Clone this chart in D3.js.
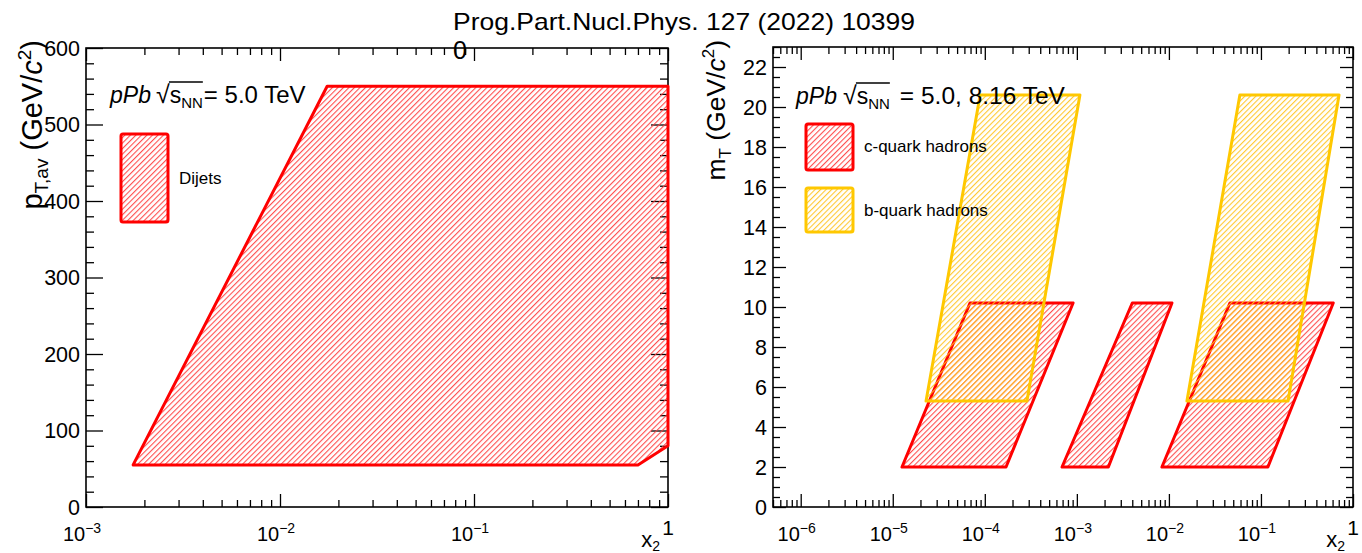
<!DOCTYPE html>
<html>
<head>
<meta charset="utf-8">
<script src="https://cdn.jsdelivr.net/npm/d3@7"></script>
<style>
  body { margin: 0; background: #fff; }
  text { font-family: "Liberation Sans", Arial, sans-serif; fill: #000; }
</style>
</head>
<body>
<svg id="chart" width="1362" height="553"></svg>
<script>
// ---- data ----
// dijet coverage in (x2, pT,avg), polygon vertices in order
const dijetX  = [0.00175, 0.0175, 1, 1, 0.70];
const dijetPt = [55, 550, 550, 80, 55];

// heavy-flavour coverage: x2 range at the low and high mT edge of each band
const charmMT      = [2, 10.2];
const charmLowX    = [[1.26e-5, 1.7e-4], [6.9e-4, 2.2e-3], [8.4e-3, 0.119]];
const charmHighX   = [[6.9e-5, 9.1e-4], [4.0e-3, 1.08e-2], [0.046, 0.61]];
const beautyMT     = [5.3, 20.6];
const beautyLowX   = [[2.3e-5, 2.87e-4], [0.0157, 0.197]];
const beautyHighX  = [[8.9e-5, 1.08e-3], [0.059, 0.705]];

const ptTicks = [0, 100, 200, 300, 400, 500, 600];
const mtTicks = [0, 2, 4, 6, 8, 10, 12, 14, 16, 18, 20, 22];
const leftDecades  = [-3, -2, -1, 0];
const rightDecades = [-6, -5, -4, -3, -2, -1, 0];

const RED = "#ff0000", GOLD = "#ffc800";

const svg = d3.select("#chart");
const defs = svg.append("defs");

function hatch(id, color) {
  const p = defs.append("pattern")
    .attr("id", id)
    .attr("patternUnits", "userSpaceOnUse")
    .attr("width", 3.9).attr("height", 3.9)
    .attr("patternTransform", "rotate(45)");
  p.append("line")
    .attr("x1", 0.6).attr("y1", 0).attr("x2", 0.6).attr("y2", 3.9)
    .attr("stroke", color).attr("stroke-width", 1);
}
hatch("hatchRed", "#ff3b3b");
hatch("hatchGold", "#ffc21a");

// ---- title ----
svg.append("text")
  .attr("x", 684).attr("y", 30)
  .attr("text-anchor", "middle")
  .attr("font-size", 24)
  .attr("textLength", 462).attr("lengthAdjust", "spacingAndGlyphs")
  .text("Prog.Part.Nucl.Phys. 127 (2022) 10399");
svg.append("text")
  .attr("x", 460).attr("y", 59)
  .attr("text-anchor", "middle")
  .attr("font-size", 25)
  .text("0");

// sequential text pieces laid out left to right
function richText(g, x, y, size, pieces) {
  let cx = x;
  const out = [];
  pieces.forEach(p => {
    const fs = p.size || size;
    const t = g.append("text")
      .attr("x", cx).attr("y", y + (p.dy || 0))
      .attr("font-size", fs)
      .attr("font-style", p.italic ? "italic" : null)
      .text(p.t);
    const w = t.node().getComputedTextLength();
    out.push(t.node());
    cx += w + (p.gap || 0);
  });
  return out;
}

function drawPanel(cfg) {
  const g = svg.append("g");
  const {x, y, left, right, top, bottom} = cfg;

  // x axis ticks (log), bottom and top, pointing inward
  const lo = x.domain()[0], hi = x.domain()[1];
  const majors = [], minors = [];
  for (let d = Math.floor(Math.log10(lo)); d <= Math.ceil(Math.log10(hi)); d++) {
    for (let k = 1; k <= 9; k++) {
      const v = k * Math.pow(10, d);
      if (v < lo * 0.999 || v > hi * 1.001) continue;
      (k === 1 ? majors : minors).push(v);
    }
  }
  [[d3.axisBottom, bottom], [d3.axisTop, top]].forEach(([ax, pos]) => {
    g.append("g").attr("transform", `translate(0,${pos})`)
      .call(ax(x).tickValues(majors).tickSize(-cfg.xMajor).tickFormat(""))
      .call(s => s.select(".domain").remove());
    g.append("g").attr("transform", `translate(0,${pos})`)
      .call(ax(x).tickValues(minors).tickSize(-cfg.xMinor).tickFormat(""))
      .call(s => s.select(".domain").remove());
  });

  // y axis ticks (linear), left and right, pointing inward
  const yMin = [];
  for (let v = y.domain()[0]; v <= y.domain()[1] + 1e-9; v += cfg.yMinorStep) yMin.push(+v.toFixed(4));
  [[d3.axisLeft, left], [d3.axisRight, right]].forEach(([ax, pos]) => {
    g.append("g").attr("transform", `translate(${pos},0)`)
      .call(ax(y).tickValues(cfg.yTicks).tickSize(-cfg.yMajor).tickFormat(""))
      .call(s => s.select(".domain").remove());
    g.append("g").attr("transform", `translate(${pos},0)`)
      .call(ax(y).tickValues(yMin.filter(v => !cfg.yTicks.includes(v))).tickSize(-cfg.yMinor).tickFormat(""))
      .call(s => s.select(".domain").remove());
  });
  g.selectAll(".tick line").attr("stroke", "#000").attr("stroke-width", 1.3);

  // frame
  g.append("rect")
    .attr("x", left).attr("y", top)
    .attr("width", right - left).attr("height", bottom - top)
    .attr("fill", "none").attr("stroke", "#000").attr("stroke-width", 1.6);

  // y tick labels
  cfg.yTicks.forEach(v => {
    g.append("text")
      .attr("x", left - 6).attr("y", y(v) + 7.5)
      .attr("text-anchor", "end")
      .attr("font-size", 21.5)
      .text(v);
  });

  // x tick labels: 10^n, and "1" for the last decade
  cfg.decades.forEach(d => {
    const px = x(Math.pow(10, d));
    if (d === 0) {
      g.append("text").attr("x", px).attr("y", 535)
        .attr("text-anchor", "middle").attr("font-size", 21).text("1");
      return;
    }
    const t = g.append("text").attr("x", px - 4).attr("y", 541)
      .attr("text-anchor", "middle").attr("font-size", 20);
    t.append("tspan").text("10");
    t.append("tspan").attr("dy", -8).attr("font-size", 14).text("\u2212" + Math.abs(d));
  });

  // x axis title
  const xt = g.append("text").attr("x", right - 8).attr("y", 547)
    .attr("text-anchor", "end").attr("font-size", 22);
  xt.append("tspan").text("x");
  xt.append("tspan").attr("dy", 4).attr("font-size", 14).text("2");

  return g;
}

// radical sign bar over s_NN
function radicalBar(g, nodes, yBar) {
  const a = nodes[1].getBBox(), b = nodes[3].getBBox();
  g.append("line").attr("x1", a.x + a.width - 1).attr("x2", b.x + b.width)
    .attr("y1", yBar).attr("y2", yBar).attr("stroke", "#000").attr("stroke-width", 1.3);
}

// rotated axis title: main letter, subscript, then unit with italic c squared
function yTitle(g, tx, ty, fs, main, sub) {
  const ss = Math.round(fs * 0.64);
  const t = g.append("text")
    .attr("transform", `translate(${tx},${ty}) rotate(-90)`)
    .attr("text-anchor", "end").attr("font-size", fs);
  t.append("tspan").text(main);
  t.append("tspan").attr("dy", 6).attr("font-size", ss).text(sub);
  t.append("tspan").attr("dy", -6).text(" (GeV/");
  t.append("tspan").attr("font-style", "italic").text("c");
  t.append("tspan").attr("dy", -11).attr("font-size", ss).text("2");
  t.append("tspan").attr("dy", 11).text(")");
}

// ---------------- left panel: dijets ----------------
const xL = d3.scaleLog().domain([1e-3, 1]).range([86, 668]);
const yL = d3.scaleLinear().domain([0, 600]).range([507, 48]);

const gL = drawPanel({
  x: xL, y: yL, left: 86, right: 668, top: 48, bottom: 507,
  xMajor: 13, xMinor: 7, yMajor: 17, yMinor: 8,
  yTicks: ptTicks, yMinorStep: 20, decades: leftDecades
});

const line = d3.line();
gL.append("path")
  .attr("d", line(dijetX.map((v, i) => [xL(v), yL(dijetPt[i])])) + "Z")
  .attr("fill", "url(#hatchRed)")
  .attr("stroke", RED).attr("stroke-width", 3).attr("stroke-linejoin", "round");

radicalBar(gL, richText(gL, 110, 103, 23, [
  {t: "pPb", italic: true, gap: 5},
  {t: "\u221A", size: 25},
  {t: "s"},
  {t: "NN", size: 15, dy: 5, gap: 1},
  {t: "= 5.0 TeV", size: 24}
]), 82);

gL.append("rect")
  .attr("x", 121).attr("y", 134).attr("width", 47).attr("height", 88).attr("rx", 2)
  .attr("fill", "url(#hatchRed)").attr("stroke", RED).attr("stroke-width", 3);
gL.append("text").attr("x", 179).attr("y", 184).attr("font-size", 17).text("Dijets");

yTitle(gL, 42, 40, 29, "p", "T,av");

// ---------------- right panel: heavy flavour ----------------
const xR = d3.scaleLog().domain([5e-7, 1]).range([773, 1353]);
const yR = d3.scaleLinear().domain([0, 23]).range([507, 47]);

const gR = drawPanel({
  x: xR, y: yR, left: 773, right: 1353, top: 47, bottom: 507,
  xMajor: 13, xMinor: 7, yMajor: 13, yMinor: 7,
  yTicks: mtTicks, yMinorStep: 0.5, decades: rightDecades
});

function band(g, lowX, highX, mt, fill, color) {
  lowX.forEach((r, i) => {
    const h = highX[i];
    const pts = [[r[0], mt[0]], [r[1], mt[0]], [h[1], mt[1]], [h[0], mt[1]]]
      .map(p => [xR(p[0]), yR(p[1])]);
    g.append("path").attr("d", line(pts) + "Z")
      .attr("fill", fill).attr("stroke", color).attr("stroke-width", 3)
      .attr("stroke-linejoin", "round");
  });
}
band(gR, charmLowX, charmHighX, charmMT, "url(#hatchRed)", RED);
band(gR, beautyLowX, beautyHighX, beautyMT, "url(#hatchGold)", GOLD);

radicalBar(gR, richText(gR, 796, 104, 23, [
  {t: "pPb", italic: true, gap: 6},
  {t: "\u221A", size: 25},
  {t: "s"},
  {t: "NN", size: 15, dy: 5, gap: 10},
  {t: "= 5.0, 8.16 TeV", size: 24.5}
]), 83);

gR.append("rect")
  .attr("x", 806).attr("y", 124).attr("width", 47).attr("height", 46).attr("rx", 2)
  .attr("fill", "url(#hatchRed)").attr("stroke", RED).attr("stroke-width", 3);
gR.append("text").attr("x", 864).attr("y", 152).attr("font-size", 17).text("c-quark hadrons");
gR.append("rect")
  .attr("x", 806).attr("y", 188).attr("width", 47).attr("height", 44).attr("rx", 2)
  .attr("fill", "url(#hatchGold)").attr("stroke", GOLD).attr("stroke-width", 3);
gR.append("text").attr("x", 864).attr("y", 216).attr("font-size", 17).text("b-quark hadrons");

yTitle(gR, 725, 40, 26.5, "m", "T");
</script>
</body>
</html>
